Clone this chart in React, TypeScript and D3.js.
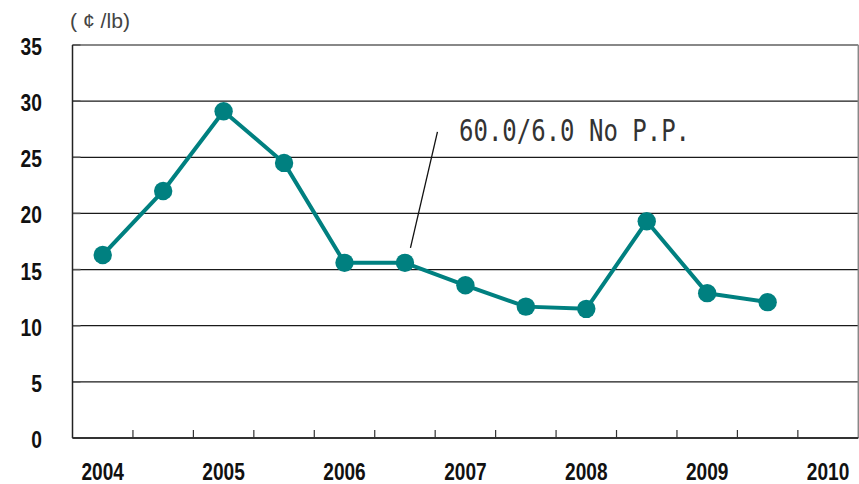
import React from "react";
import * as d3 from "d3";

// Half-year slots from 2004 to 2010; the last slot has no value.
const slots = [
  "2004a", "2004b", "2005a", "2005b", "2006a", "2006b", "2007a",
  "2007b", "2008a", "2008b", "2009a", "2009b", "2010a",
];
const prices = [16.3, 22.0, 29.1, 24.5, 15.6, 15.6, 13.6, 11.7, 11.5, 19.3, 12.9, 12.1];
const yearLabels = ["2004", "2005", "2006", "2007", "2008", "2009", "2010"];
const yTicks = [0, 5, 10, 15, 20, 25, 30, 35];
const unitLabel = "( ¢ /lb)";
const noteText = "60.0/6.0 No P.P.";
const noteIndex = 5;

const W = 859;
const H = 484;
const left = 72.5;
const right = 858.3;
const top = 45;
const bottom = 438;
const teal = "#008080";
const labelFont = "'Liberation Sans', Arial, sans-serif";

export default function App() {
  const x = d3.scaleBand<string>().domain(slots).range([left, right]).paddingInner(0).paddingOuter(0);
  const y = d3.scaleLinear().domain([0, 35]).range([bottom, top]);
  const cx = (i: number) => (x(slots[i]) as number) + x.bandwidth() / 2;

  const line = d3
    .line<number>()
    .x((_, i) => cx(i))
    .y((d) => y(d));

  const tickXs = slots.slice(1).map((s) => x(s) as number);

  const nx = cx(noteIndex);
  const ny = y(prices[noteIndex]);

  return (
    <svg
      width={W}
      height={H}
      style={{ position: "absolute", left: 0, top: 0, background: "#fff" }}
    >
      {/* horizontal grid */}
      {yTicks.slice(1, -1).map((t) => (
        <line key={t} x1={left} x2={right} y1={y(t)} y2={y(t)} stroke="#1a1a1a" strokeWidth={1.2} />
      ))}
      {/* plot frame: top and right in grey */}
      <line x1={left} x2={right} y1={y(35)} y2={y(35)} stroke="#888" strokeWidth={2} />
      <line x1={right} x2={right} y1={top} y2={bottom} stroke="#888" strokeWidth={1.5} />
      {/* left stubs */}
      {yTicks.map((t) => (
        <line key={"s" + t} x1={left} x2={left + 8} y1={y(t)} y2={y(t)} stroke="#555" strokeWidth={1.5} />
      ))}
      {/* axes */}
      <line x1={left} x2={left} y1={top} y2={bottom} stroke="#222" strokeWidth={1.5} />
      <line x1={left} x2={right} y1={bottom} y2={bottom} stroke="#333" strokeWidth={1.8} />
      {tickXs.map((tx, i) => (
        <line key={"t" + i} x1={tx} x2={tx} y1={bottom} y2={bottom - 8} stroke="#333" strokeWidth={1.2} />
      ))}

      {/* y labels */}
      {yTicks.map((t) => {
        const s = String(t);
        return (
          <text
            key={"yl" + t}
            x={42}
            y={y(t) + 10}
            textAnchor="end"
            fontFamily={labelFont}
            fontWeight="bold"
            fontSize={23}
            fill="#111"
            textLength={s.length * 10.7}
            lengthAdjust="spacingAndGlyphs"
          >
            {s}
          </text>
        );
      })}

      {/* year labels */}
      {yearLabels.map((yr, i) => (
        <text
          key={yr}
          x={cx(i * 2)}
          y={479.5}
          textAnchor="middle"
          fontFamily={labelFont}
          fontWeight="bold"
          fontSize={23}
          fill="#111"
          textLength={42.5}
          lengthAdjust="spacingAndGlyphs"
        >
          {yr}
        </text>
      ))}

      {/* unit */}
      <text
        x={70}
        y={28}
        fontFamily={labelFont}
        fontSize={21}
        fill="#444"
        textLength={60}
        lengthAdjust="spacingAndGlyphs"
      >
        {unitLabel}
      </text>

      {/* series */}
      <path d={line(prices) ?? ""} fill="none" stroke={teal} strokeWidth={4} strokeLinejoin="round" />
      {prices.map((p, i) => (
        <circle key={"c" + i} cx={cx(i)} cy={y(p)} r={9.2} fill={teal} />
      ))}

      {/* annotation */}
      <line x1={nx + 32.5} y1={ny - 131} x2={nx + 5.5} y2={ny - 15} stroke="#111" strokeWidth={1.3} />
      <text
        x={459}
        y={141}
        fontFamily="'DejaVu Sans Mono', 'Liberation Mono', monospace"
        fontSize={30}
        fill="#333"
        textLength={231}
        lengthAdjust="spacingAndGlyphs"
      >
        {noteText}
      </text>
    </svg>
  );
}
